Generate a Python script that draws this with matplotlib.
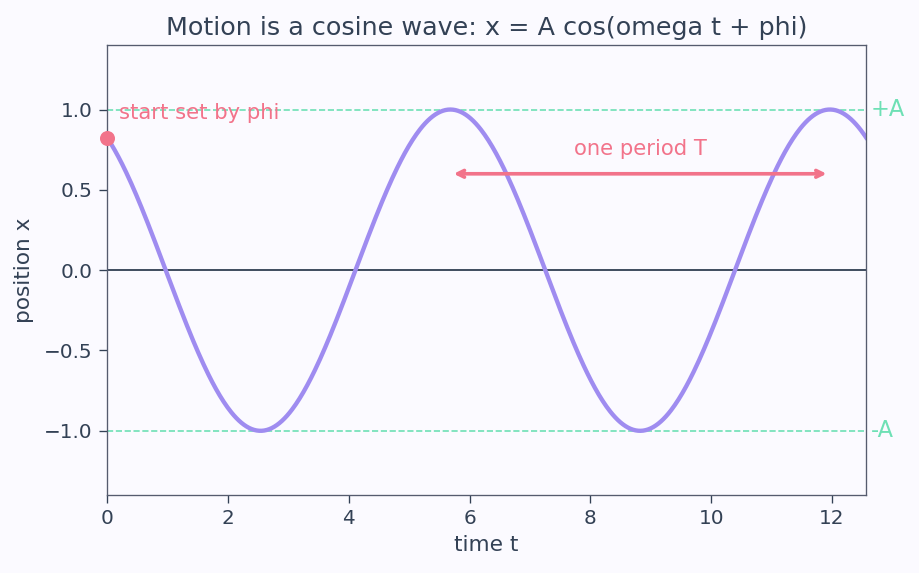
import numpy as np
import matplotlib.pyplot as plt

# wave parameters
A = 1.0
omega = 1.0
phi = 0.6
t_max = 4 * np.pi

ink = '#334155'
wave_color = '#9f8cf0'
accent = '#f2738a'
guide = '#6ee0b5'

t = np.linspace(0, t_max, 600)
x = A * np.cos(omega * t + phi)
T = 2 * np.pi / omega
t_peak = (2 * np.pi - phi) / omega

fig, ax = plt.subplots(figsize=(919 / 120, 573 / 120), dpi=120)
fig.patch.set_facecolor('#fbfaff')
ax.set_facecolor('#fbfaff')

ax.axhline(0, color=ink, lw=1.1)
ax.axhline(A, color=guide, lw=1.0, ls='--')
ax.axhline(-A, color=guide, lw=1.0, ls='--')
ax.plot(t, x, color=wave_color, lw=2.6)
ax.plot([0], [A * np.cos(phi)], 'o', color=accent, ms=8, clip_on=False, zorder=5)

ax.text(0.2, 0.98, 'start set by phi', color=accent, fontsize=12.7, va='center')
ax.annotate('', xy=(t_peak + T, 0.6), xytext=(t_peak, 0.6),
            arrowprops=dict(arrowstyle='<->', color=accent, lw=2.2))
ax.text(t_peak + T / 2, 0.69, 'one period T', color=accent, fontsize=12.7,
        ha='center', va='bottom')
ax.text(t_max * 1.006, A, '+A', color=guide, fontsize=13.5, va='center')
ax.text(t_max * 1.006, -A, '-A', color=guide, fontsize=13.5, va='center')

ax.set_xlim(0, t_max)
ax.set_ylim(-1.4, 1.4)
ax.set_yticks([-1.0, -0.5, 0.0, 0.5, 1.0])
ax.set_title('Motion is a cosine wave: x = A cos(omega t + phi)', color=ink, fontsize=15.2)
ax.set_xlabel('time t', color=ink, fontsize=13)
ax.set_ylabel('position x', color=ink, fontsize=13, labelpad=6)
ax.tick_params(colors=ink, labelsize=12, length=5)
for s in ax.spines.values():
    s.set_color('#555b6e')

fig.subplots_adjust(left=0.1165, right=0.9425, top=0.921, bottom=0.136)
fig.savefig('out.png', dpi=120, facecolor=fig.get_facecolor())
